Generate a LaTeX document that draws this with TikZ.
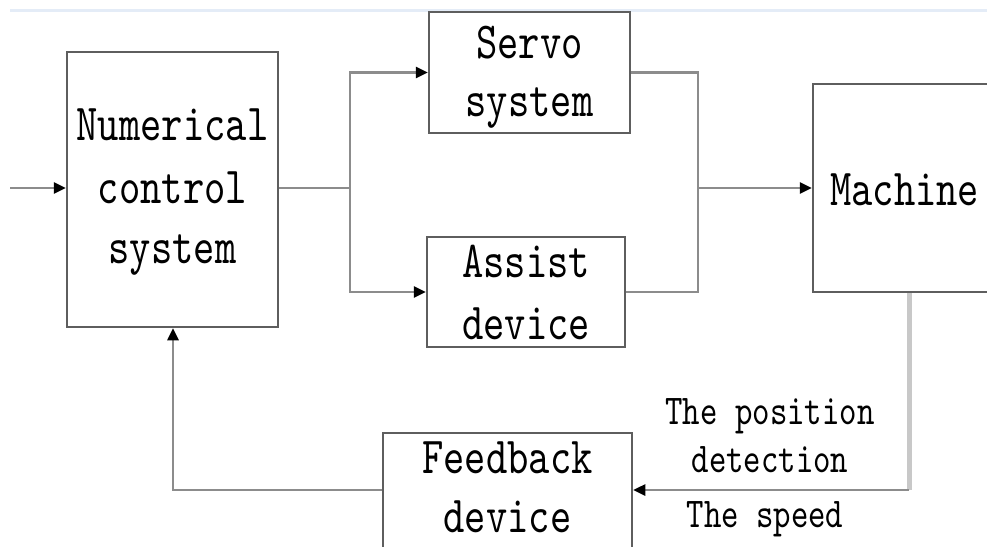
\documentclass[tikz,border=0pt]{standalone}
\usepackage{fontspec}
\usetikzlibrary{arrows.meta}
% narrow serif typewriter face for all labels
\newfontfamily\diagfont[FakeStretch=0.78]{lmmono10-regular.otf}
\definecolor{boxgray}{HTML}{5E5E5E}
\definecolor{wiregray}{HTML}{8C8C8C}
\definecolor{lightwire}{HTML}{C8C8C8}
\definecolor{rulerblue}{HTML}{E4ECF7}

\begin{document}
\begin{tikzpicture}[x=1pt,y=-1pt,
  blk/.style={draw=boxgray, line width=2.5pt, fill=white, inner sep=0pt},
  wire/.style={draw=wiregray, line width=2.5pt},
  arr/.style={wire, -{Triangle[length=12pt,width=11pt,color=black]}},
  lbl/.style={anchor=base, inner sep=0pt, font=\diagfont\fontsize{52}{60}\selectfont},
  note/.style={anchor=base, inner sep=0pt, font=\diagfont\fontsize{42.5}{48}\selectfont}]
\useasboundingbox (0,0) rectangle (987,546);
\clip (0,0) rectangle (987,546);
\fill[white] (0,0) rectangle (987,546);

% thin blue rule along the top
\draw[rulerblue, line width=3pt] (10,10) -- (987,10);

% blocks
\node[blk, minimum width=211pt, minimum height=275pt] (nc)       at (172.5,189.5) {};
\node[blk, minimum width=201pt, minimum height=121pt] (servo)    at (529.5,72.5) {};
\node[blk, minimum width=198pt, minimum height=110pt] (assist)   at (526,292) {};
\node[blk, minimum width=207pt, minimum height=208pt] (machine)  at (916.5,188) {};
\node[blk, minimum width=249pt, minimum height=137pt] (feedback) at (507.5,501.5) {};

% block texts
\node[lbl] (nc1) at (172.5,140) {Numerical};
\node[lbl] (nc2) at (172.5,203) {control};
\node[lbl] (nc3) at (172.5,263) {system};
\node[lbl] (sv1) at (529.5,58) {Servo};
\node[lbl] (sv2) at (529.5,116) {system};
\node[lbl] (as1) at (526,277) {Assist};
\node[lbl] (as2) at (526,339) {device};
\node[lbl] (fb1) at (507.5,473) {Feedback};
\node[lbl] (fb2) at (507.5,532) {device};
\node[lbl, anchor=base west] (mc1) at (830,205) {Machine};

% signal labels
\node[note] (n1) at (770,424) {The position};
\node[note] (n2) at (770,472) {detection};
\node[note] (n3) at (765,527) {The speed};

% connection points
\coordinate (in) at (10,188);
\coordinate (sp) at (350,188);
\coordinate (mg) at (698,188);
\coordinate (fb) at (909,490);
\coordinate (rt) at (173,490);

% forward path
\draw[arr] (in) -- (in -| nc.west);
\draw[wire] (nc.east |- sp) -- (sp);
\draw[arr] (sp) |- (servo.west);
\draw[arr] (sp) |- (assist.west);
\draw[wire] (servo.east) -| (mg);
\draw[wire] (assist.east) -| (mg);
\draw[arr] (mg) -- (mg -| machine.west);

% feedback path
\draw[draw=lightwire, line width=5pt] (machine.south -| fb) -- (fb);
\draw[arr] (fb) -- (fb -| feedback.east);
\draw[arr] (feedback.west |- rt) -- (rt) -- (rt |- nc.south);
\end{tikzpicture}
\end{document}
